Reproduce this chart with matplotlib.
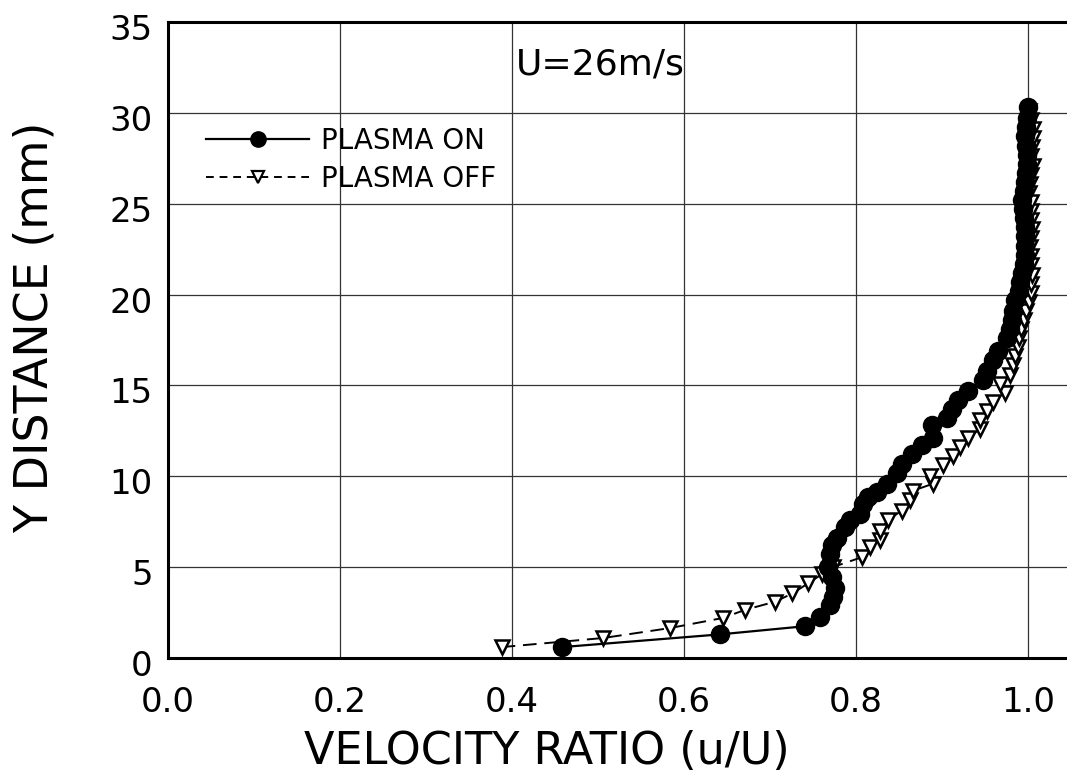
import matplotlib
matplotlib.use("Agg")
import matplotlib.pyplot as plt
import matplotlib.transforms as mtransforms
from matplotlib.lines import Line2D

# ---- data ----
on_x = [0.458, 0.642, 0.741, 0.758, 0.770, 0.773, 0.776, 0.772, 0.767, 0.770,
        0.772, 0.778, 0.787, 0.793, 0.805, 0.808, 0.814, 0.824, 0.836, 0.848,
        0.853, 0.865, 0.877, 0.890, 0.888, 0.906, 0.912, 0.919, 0.930, 0.948,
        0.952, 0.959, 0.965, 0.976, 0.979, 0.981, 0.982, 0.985, 0.989, 0.991,
        0.993, 0.995, 0.996, 0.997, 0.997, 0.996, 0.995, 0.994, 0.993, 0.995,
        0.997, 0.998, 0.999, 0.999, 0.998, 0.997, 0.998, 0.999, 1.000]
on_y = [0.6, 1.3, 1.75, 2.25, 2.9, 3.35, 3.85, 4.45, 5.0, 5.75,
        6.2, 6.6, 7.2, 7.6, 7.95, 8.5, 8.85, 9.15, 9.6, 10.2,
        10.7, 11.25, 11.7, 12.1, 12.8, 13.2, 13.7, 14.2, 14.7, 15.3,
        15.8, 16.4, 16.9, 17.6, 18.1, 18.6, 19.1, 19.7, 20.2, 20.7,
        21.2, 21.7, 22.2, 22.7, 23.2, 23.7, 24.2, 24.7, 25.2, 25.7,
        26.2, 26.7, 27.2, 27.7, 28.2, 28.7, 29.2, 29.7, 30.3]

off_x = [0.388, 0.506, 0.584, 0.645, 0.671, 0.706, 0.726, 0.744, 0.760, 0.773,
         0.807, 0.816, 0.828, 0.828, 0.837, 0.853, 0.863, 0.866, 0.890, 0.886,
         0.901, 0.913, 0.921, 0.930, 0.944, 0.944, 0.952, 0.959, 0.973, 0.967,
         0.979, 0.983, 0.985, 0.988, 0.989, 0.992, 0.995, 0.998, 1.001, 1.003,
         1.004, 1.005, 1.004, 1.003, 1.002, 1.004, 1.005, 1.004, 1.004, 1.004,
         1.001, 1.002, 1.003, 1.006, 1.004, 1.005, 1.006, 1.006, 1.004, 1.001]
off_y = [0.6, 1.1, 1.65, 2.2, 2.65, 3.1, 3.55, 4.1, 4.6, 5.0,
         5.55, 6.1, 6.5, 7.0, 7.6, 8.1, 8.7, 9.2, 9.6, 10.0,
         10.6, 11.1, 11.6, 12.1, 12.6, 13.1, 13.6, 14.1, 14.6, 15.1,
         15.6, 16.1, 16.6, 17.1, 17.6, 18.1, 18.6, 19.1, 19.6, 20.1,
         20.6, 21.1, 21.6, 22.1, 22.6, 23.1, 23.6, 24.1, 24.6, 25.1,
         25.6, 26.1, 26.6, 27.1, 27.6, 28.1, 28.6, 29.1, 29.6, 30.1]

x_ticks = [0.0, 0.2, 0.4, 0.6, 0.8, 1.0]
x_tick_labels = ["0.0", "0.2", "0.4", "0.6", "0.8", "1.0"]
y_ticks = [0, 5, 10, 15, 20, 25, 30, 35]
y_tick_labels = ["0", "5", "10", "15", "20", "25", "30", "35"]

label_on = "PLASMA ON"
label_off = "PLASMA OFF"
annot = "U=26m/s"
xlabel = "VELOCITY RATIO (u/U)"
ylabel = "Y DISTANCE (mm)"

plt.rcParams['font.family'] = ['DejaVu Sans']

W, H = 1067, 775
fig = plt.figure(figsize=(W / 100, H / 100), dpi=100)
ax = fig.add_axes([168 / W, 117 / H, 903 / W, 636 / H])

ax.set_xlim(0, 1.05)
ax.set_ylim(0, 35)

ax.grid(True, color='0.2', linewidth=0.9)
ax.set_axisbelow(True)

ax.plot(off_x, off_y, linestyle=(0, (7, 4)), color='black', linewidth=1.4,
        marker='v', markersize=10, markerfacecolor='white',
        markeredgecolor='black', markeredgewidth=1.8, label=label_off, zorder=3)
ax.plot(on_x, on_y, linestyle='-', color='black', linewidth=1.6,
        marker='o', markersize=13, markerfacecolor='black',
        markeredgecolor='black', label=label_on, zorder=4)

ax.set_xticks(x_ticks)
ax.set_xticklabels(x_tick_labels)
ax.set_yticks(y_ticks)
ax.set_yticklabels(y_tick_labels)
ax.tick_params(axis='both', length=0, labelsize=24.5)
ax.tick_params(axis='x', pad=20)
ax.tick_params(axis='y', pad=11)
off = mtransforms.ScaledTranslation(0, -5 / 100, fig.dpi_scale_trans)
for lab in ax.get_yticklabels():
    lab.set_transform(lab.get_transform() + off)

for s in ['left', 'bottom', 'top']:
    ax.spines[s].set_linewidth(2.2)
    ax.spines[s].set_color('black')
ax.spines['right'].set_visible(False)

ax.set_xlabel(xlabel, fontsize=32)
ax.xaxis.label.set_va('baseline')
ax.xaxis.set_label_coords(379 / 903, -106 / 636)
ax.set_ylabel(ylabel, fontsize=33)
ax.yaxis.label.set_va('baseline')
ax.yaxis.set_label_coords(-120 / 903, 0.52)

ax.text(0.405, 32.1, annot, fontsize=26, ha='left', va='baseline')

h_on = Line2D([], [], linestyle='-', color='black', linewidth=1.6,
              marker='o', markersize=11, markerfacecolor='black')
h_off = Line2D([], [], linestyle=(0, (4, 3)), color='black', linewidth=1.4,
               marker='v', markersize=9, markerfacecolor='white',
               markeredgecolor='black', markeredgewidth=1.6)
leg = ax.legend([h_on, h_off], [label_on, label_off], loc='upper left',
                bbox_to_anchor=(0.03, 0.853), frameon=False, fontsize=20,
                handlelength=3.7, handletextpad=0.45, labelspacing=0.38,
                borderaxespad=0.0)

fig.savefig("out.png", dpi=100)
